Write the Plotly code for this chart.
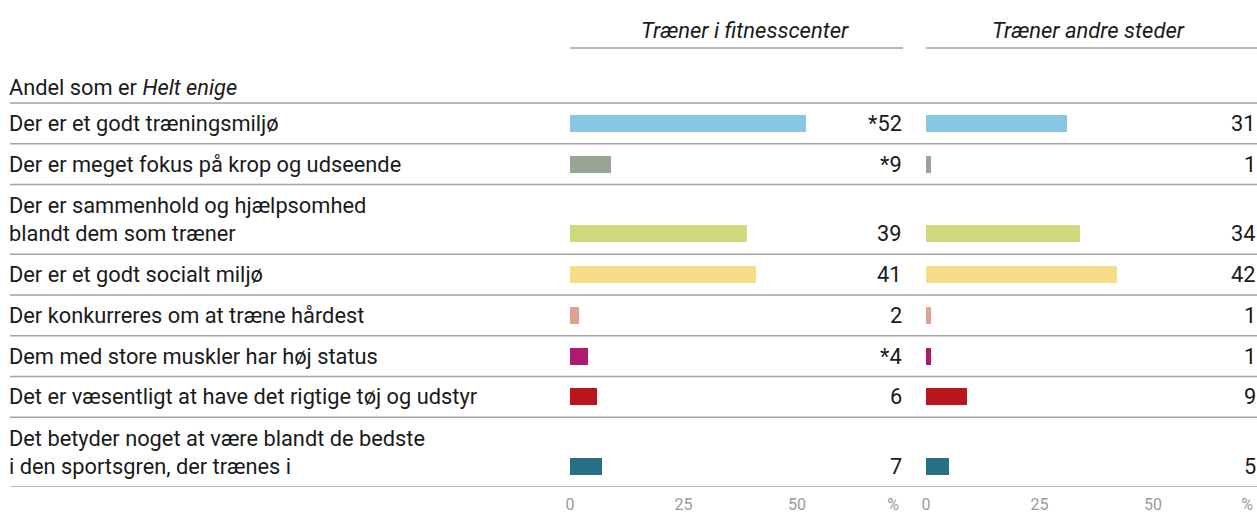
import plotly.graph_objects as go

# ---- data ----
categories = [
    "Der er et godt træningsmiljø",
    "Der er meget fokus på krop og udseende",
    "Der er sammenhold og hjælpsomhed<br>blandt dem som træner",
    "Der er et godt socialt miljø",
    "Der konkurreres om at træne hårdest",
    "Dem med store muskler har høj status",
    "Det er væsentligt at have det rigtige tøj og udstyr",
    "Det betyder noget at være blandt de bedste<br>i den sportsgren, der trænes i",
]
fitness_values = [52, 9, 39, 41, 2, 4, 6, 7]
fitness_marks = ["*", "*", "", "", "", "*", "", ""]
other_values = [31, 1, 34, 42, 1, 1, 9, 5]
other_marks = ["", "", "", "", "", "", "", ""]
panel_titles = ["Træner i fitnesscenter", "Træner andre steder"]
heading_plain = "Andel som er "
heading_italic = "Helt enige"
tick_values = [0, 25, 50]
tick_labels = ["0", "25", "50"]
unit_label = "%"
bar_colors = ["#88C7E4", "#99A593", "#D1DA7B", "#F6DE88",
              "#E0A18E", "#AE1A6E", "#BA141C", "#2A6F88"]

# ---- layout constants (pixel-like units on the y axis) ----
W, H = 1257, 514
FONT = "Roboto, Liberation Sans, Arial, sans-serif"
TEXT = "#1a1a1a"
GRID = "#a3a3a3"
TICK = "#9a9a9a"
FS = 21.8
SINGLE = 40.75
EXTRA_LINE = 28.95
TOP = 103
BOTTOM = 487
PX_PER_UNIT = 4.54
LINE_GAP = 1.3 * FS
UNIT_POS = 0.97  # fraction of the axis where the unit sign sits

# row geometry derived from number of label lines
nlines = [c.count("<br>") + 1 for c in categories]
bounds = [TOP]
for n in nlines:
    bounds.append(bounds[-1] + SINGLE + (n - 1) * EXTRA_LINE)
centers = [b - SINGLE / 2 for b in bounds[1:]]

left_dom = [570 / W, 903 / W]
right_dom = [926 / W, 1.0]
left_range = [0, (903 - 570) / PX_PER_UNIT]
right_range = [0, (W - 926) / PX_PER_UNIT]

fig = go.Figure()
fig.add_trace(go.Bar(x=fitness_values, y=centers, orientation="h", width=17,
                     marker=dict(color=bar_colors, line=dict(width=0)),
                     xaxis="x", yaxis="y", hoverinfo="skip", showlegend=False))
fig.add_trace(go.Bar(x=other_values, y=centers, orientation="h", width=17,
                     marker=dict(color=bar_colors, line=dict(width=0)),
                     xaxis="x2", yaxis="y", hoverinfo="skip", showlegend=False))

ann = []
shapes = []
# row labels
for cat, n, yc in zip(categories, nlines, centers):
    ann.append(dict(text=cat, xref="paper", x=7 / W, xanchor="left", yref="y", y=yc,
                    yanchor="middle", yshift=(n - 1) * LINE_GAP / 2, align="left",
                    showarrow=False, font=dict(family=FONT, size=FS, color=TEXT)))
# value labels
for axis, vals, marks in (("x", fitness_values, fitness_marks), ("x2", other_values, other_marks)):
    for v, m, yc in zip(vals, marks, centers):
        ann.append(dict(text=f"{m}{v}", xref=f"{axis} domain", x=1, xanchor="right", xshift=1,
                        yref="y", y=yc, yanchor="middle", showarrow=False,
                        font=dict(family=FONT, size=FS, color=TEXT)))
# panel titles and underline
for axis, title in (("x", panel_titles[0]), ("x2", panel_titles[1])):
    ann.append(dict(text=f"<i>{title}</i>", xref=f"{axis} domain", x=0.5, xanchor="center",
                    xshift=8 if axis == "x" else -3,
                    yref="y", y=30, yanchor="middle", showarrow=False,
                    font=dict(family=FONT, size=22, color=TEXT)))
    shapes.append(dict(type="line", xref=f"{axis} domain", x0=0, x1=1, yref="y", y0=48, y1=48,
                       line=dict(color=GRID, width=1.5)))
# heading
ann.append(dict(text=f"{heading_plain}<i>{heading_italic}</i>", xref="paper", x=7 / W,
                xanchor="left", yref="y", y=87, yanchor="middle", showarrow=False,
                font=dict(family=FONT, size=FS, color=TEXT)))
# separators
for b in bounds:
    shapes.append(dict(type="line", xref="paper", x0=10 / W, x1=1, yref="y", y0=b, y1=b,
                       line=dict(color=GRID, width=1.5)))


def axis_style(rng, dom):
    return dict(domain=dom, range=rng, anchor="y", showgrid=False, zeroline=False,
                showline=False, ticks="", automargin=False, fixedrange=True,
                tickvals=tick_values + [rng[1] * UNIT_POS],
                ticktext=tick_labels + [unit_label], ticklabelstandoff=6,
                tickfont=dict(family=FONT, size=16, color=TICK))


fig.update_layout(
    width=W, height=H, margin=dict(l=0, r=0, t=0, b=0, autoexpand=False),
    paper_bgcolor="white", plot_bgcolor="white",
    xaxis=axis_style(left_range, left_dom),
    xaxis2=axis_style(right_range, right_dom),
    yaxis=dict(domain=[(H - BOTTOM) / H, 1], range=[BOTTOM, 0], visible=False,
               automargin=False, fixedrange=True),
    annotations=ann, shapes=shapes, bargap=0,
)
fig.write_html("out.html", config={"displayModeBar": False})

# remove the default page margin so the figure sits at the window's corner
with open("out.html", encoding="utf-8") as f:
    html = f.read()
html = html.replace("<head>", "<head><style>html,body{margin:0;padding:0;overflow:hidden;}</style>", 1)
with open("out.html", "w", encoding="utf-8") as f:
    f.write(html)
